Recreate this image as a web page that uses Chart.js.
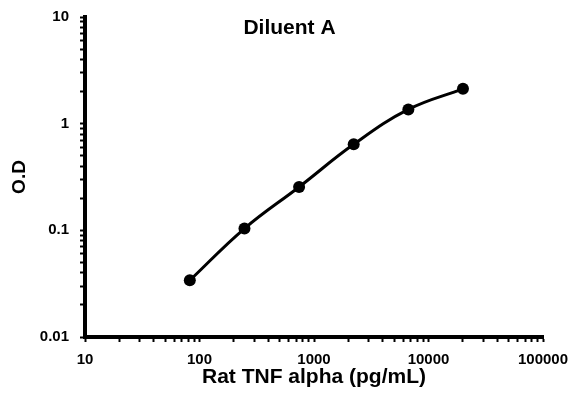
<!DOCTYPE html>
<html>
<head>
<meta charset="utf-8">
<script src="https://cdn.jsdelivr.net/npm/chart.js@4"></script>
<style>
  html, body { margin: 0; padding: 0; background: #fff; }
  #wrap { width: 579px; height: 398px; }
</style>
</head>
<body>
<div id="wrap"><canvas id="odChart"></canvas></div>
<script>
// Standard curve values
var chartTitle = 'Diluent A';
var concentrations = [82.3, 247, 741, 2222, 6667, 20000];   // pg/mL
var odValues = [0.034, 0.104, 0.255, 0.64, 1.36, 2.12];

// Labelled ticks on the log axes
var xTickLabels = [10, 100, 1000, 10000, 100000];
var yTickLabels = [0.01, 0.1, 1, 10];

var fontFamily = '"Liberation Sans", Arial, sans-serif';

// build 1..9 minor ticks between the labelled decades
function decadeTicks(majors) {
    var ticks = [];
    for (var i = 0; i < majors.length - 1; i++) {
        for (var m = 1; m < 10; m++) {
            ticks.push({ value: +(majors[i] * m).toPrecision(6) });
        }
    }
    ticks.push({ value: majors[majors.length - 1] });
    return ticks;
}

// title is centred on the whole canvas, above the plot area
var canvasTitle = {
    id: 'canvasTitle',
    afterDraw: function(chart) {
        var c = chart.ctx;
        c.save();
        c.font = 'bold 21px ' + fontFamily;
        c.fillStyle = '#000';
        c.textAlign = 'center';
        c.textBaseline = 'alphabetic';
        c.fillText(chartTitle, chart.width / 2, 34);
        c.restore();
    }
};

document.addEventListener('DOMContentLoaded', function() {
    var ctx = document.getElementById('odChart').getContext('2d');

    var points = concentrations.map(function(c, i) {
        return { x: c, y: odValues[i] };
    });

    var axisCommon = {
        type: 'logarithmic',
        border: { display: true, color: '#000', width: 4 },
        grid: {
            drawOnChartArea: false,
            drawTicks: true,
            tickLength: 5,
            tickWidth: 2,
            tickColor: '#000'
        }
    };

    new Chart(ctx, {
        type: 'line',
        data: {
            datasets: [{
                label: chartTitle,
                data: points,
                borderColor: '#000',
                backgroundColor: '#000',
                borderWidth: 3,
                pointRadius: 6,
                pointHoverRadius: 6,
                pointBackgroundColor: '#000',
                pointBorderWidth: 0,
                tension: 0.4,
                fill: false
            }]
        },
        options: {
            responsive: true,
            maintainAspectRatio: false,
            animation: false,
            layout: {
                padding: { top: 17, right: 36, bottom: 0, left: 0 }
            },
            plugins: {
                legend: { display: false },
                tooltip: { enabled: false },
                title: { display: false }
            },
            scales: {
                x: Object.assign({}, axisCommon, {
                    min: 10,
                    max: 100000,
                    afterBuildTicks: function(scale) { scale.ticks = decadeTicks(xTickLabels); },
                    afterFit: function(scale) { scale.height = 61; },
                    ticks: {
                        autoSkip: false,
                        maxRotation: 0,
                        padding: 9,
                        color: '#000',
                        font: { family: fontFamily, size: 15, weight: 'bold' },
                        callback: function(value) {
                            return xTickLabels.indexOf(value) >= 0 ? String(value) : '';
                        }
                    },
                    title: {
                        display: true,
                        text: 'Rat TNF alpha (pg/mL)',
                        color: '#000',
                        font: { family: fontFamily, size: 21, weight: 'bold' },
                        padding: { top: 4, bottom: 8 }
                    }
                }),
                y: Object.assign({}, axisCommon, {
                    min: 0.01,
                    max: 10,
                    afterBuildTicks: function(scale) { scale.ticks = decadeTicks(yTickLabels); },
                    afterFit: function(scale) {
                        scale.width = 85;
                        scale.paddingTop = 0;
                        scale.paddingBottom = 0;
                    },
                    ticks: {
                        autoSkip: false,
                        padding: 11,
                        color: '#000',
                        font: { family: fontFamily, size: 15, weight: 'bold' },
                        callback: function(value) {
                            return yTickLabels.indexOf(value) >= 0 ? String(value) : '';
                        }
                    },
                    title: {
                        display: true,
                        text: 'O.D',
                        color: '#000',
                        font: { family: fontFamily, size: 19, weight: 'bold' },
                        padding: { top: 8, bottom: 4 }
                    }
                })
            }
        },
        plugins: [canvasTitle]
    });
});
</script>
</body>
</html>
